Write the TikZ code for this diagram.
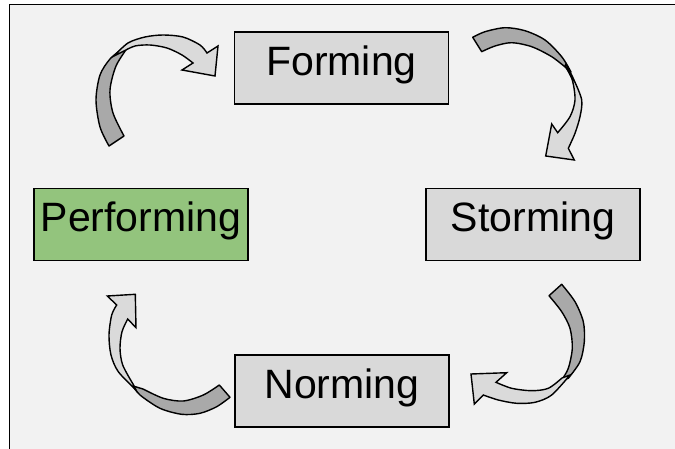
\documentclass[tikz,border=0pt]{standalone}
\usepackage{fontspec}
\setmainfont{Liberation Sans}
\usepackage{xcolor}
\definecolor{panel}{HTML}{F2F2F2}
\definecolor{stage}{HTML}{D9D9D9}
\definecolor{perform}{HTML}{93C47D}
\definecolor{bandback}{HTML}{A9A9A9}
\definecolor{bandfront}{HTML}{DADADA}
\usetikzlibrary{positioning}

\begin{document}
\begin{tikzpicture}[
  x=0.5pt, y=-0.5pt,
  stagebox/.style={draw=black, fill=stage, line width=0.8pt,
                   minimum width=107pt, minimum height=36pt, inner sep=0pt,
                   text height=0.716em, text depth=0pt,
                   font=\fontsize{20.5pt}{24pt}\selectfont},
  backband/.style={draw=black, fill=bandback, line width=0.7pt, line join=round},
  frontband/.style={draw=black, fill=bandfront, line width=0.7pt, line join=miter},
]
  \useasboundingbox (0,0) rectangle (675,449);
  \fill[panel] (10,5) rectangle (675,449);
  \draw[line width=0.8pt] (9.5,449) -- (9.5,4.5) -- (675,4.5);

  \node[stagebox] (forming) at (341.5,68) {Forming};
  \node[stagebox] (storming) at (533,224.5) {Storming};
  \node[stagebox] (norming) at (342,391) {Norming};
  \node[stagebox, fill=perform] (performing) at (141,224.5) {Performing};

  % performing -> forming
  \draw[backband] plot[smooth] coordinates {(109,146) (100,127) (96,100) (100,75) (110,59) (122,49)}
    -- plot[smooth] coordinates {(128,47) (116,66) (110,90) (113,113) (124,136)} -- cycle;
  \draw[frontband] plot[smooth] coordinates {(114,56) (128,43) (145,37) (163,35) (183,37) (200,45) (207,53)}
    -- (218,46) -- (215,76) -- (182,70)
    -- plot[smooth] coordinates {(193,63) (182,55) (167,48) (150,45) (135,46) (124,51)} -- cycle;

  % forming -> storming
  \draw[backband] plot[smooth] coordinates {(472.7,37.3) (485,31.7) (505,27.7) (525,30.7) (545,40) (561.7,56.7) (571,72)}
    -- plot[smooth] coordinates {(566.7,68.3) (551.7,56.7) (531.7,46.7) (511.7,42.7) (495,46) (481.7,51.7)} -- cycle;
  \draw[frontband] plot[smooth] coordinates {(566,64) (574,80) (581.7,100) (580,116.7) (575,133.3) (568.3,148.3)}
    -- (574.3,160) -- (545.7,156) -- (551.7,124)
    -- plot[smooth] coordinates {(557.7,132.7) (570,116.7) (575,100) (572.3,80) (565,66)} -- cycle;

  % storming -> norming
  \draw[backband] plot[smooth] coordinates {(561.7,284.3) (575,301.7) (583.3,321.7) (584.3,341.7) (580,361.7) (568.3,378.3)}
    -- plot[smooth] coordinates {(561.7,380) (568.3,368.3) (572.3,348.3) (570,328.3) (561.7,311.7) (549,295.7)} -- cycle;
  \draw[frontband] plot[smooth] coordinates {(570,375) (551.7,395) (535,402.3) (516.7,403.3) (498.3,400) (483.3,395)}
    -- (474.3,404) -- (471,374) -- (506.7,372.7)
    -- plot[smooth] coordinates {(496,382.3) (511.7,388.3) (531.7,390.7) (548.3,388.3) (562,378)} -- cycle;

  % norming -> performing
  \draw[backband] plot[smooth] coordinates {(230,397.3) (216.7,406.7) (200,413.3) (181.7,414.3) (160,408.3) (140,395) (133,386)}
    -- plot[smooth] coordinates {(143,389) (163.3,398.3) (183.3,401) (203.3,395) (219.3,385)} -- cycle;
  \draw[frontband] plot[smooth] coordinates {(136,390) (118.3,371.7) (111,355) (109,335) (111.7,315) (116.7,305)}
    -- (107.3,296) -- (135.3,294.3) -- (136,327.7)
    -- plot[smooth] coordinates {(127.7,319) (122,331.7) (120,348.3) (122.7,365) (133,384)} -- cycle;
\end{tikzpicture}
\end{document}
